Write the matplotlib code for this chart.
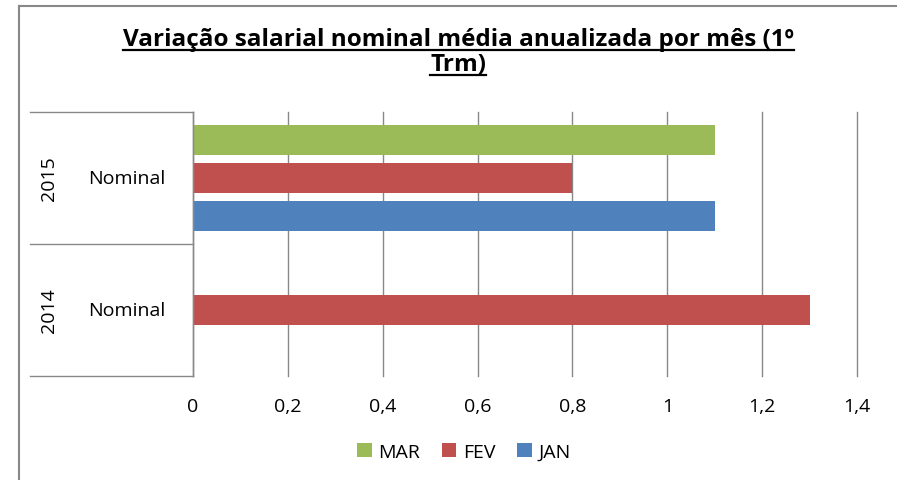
import matplotlib
matplotlib.use('Agg')
import matplotlib.pyplot as plt
import matplotlib.transforms as mtransforms
from matplotlib.lines import Line2D
from matplotlib.patches import Patch
import numpy as np

plt.rcParams['font.family'] = ['Open Sans', 'DejaVu Sans']

# data
years = ['2014', '2015']
group_label = 'Nominal'
months = ['JAN', 'FEV', 'MAR']
jan = [np.nan, 1.1]
fev = [1.3, 0.8]
mar = [np.nan, 1.1]
month_colors = ['#4F81BD', '#C0504D', '#9BBB59']
xticks = [0, 0.2, 0.4, 0.6, 0.8, 1.0, 1.2, 1.4]
xtick_labels = ['0', '0,2', '0,4', '0,6', '0,8', '1', '1,2', '1,4']
title_lines = ['Variação salarial nominal média anualizada por mês (1º', 'Trm)']

W, H = 897, 481
grid_col = '#888888'
txt_col = '#000000'

fig = plt.figure(figsize=(W / 100, H / 100), dpi=100)
ax = fig.add_axes([193 / W, 1 - 377 / H, 664 / W, 264 / H])

ypos = np.arange(len(years))
offsets = [-0.29, 0.0, 0.29]
bar_h = 0.227
for vals, off, col in zip([jan, fev, mar], offsets, month_colors):
    ax.barh(ypos + off, vals, height=bar_h, color=col, zorder=3)

ax.set_xlim(0, 1.4)
ax.set_ylim(-0.5, len(years) - 0.5)
ax.set_xticks(xticks)
ax.set_xticklabels(xtick_labels)
ax.set_yticks([])
ax.tick_params(axis='x', length=0, pad=15, labelsize=14, labelcolor=txt_col)
ax.grid(axis='x', color=grid_col, linewidth=1.0, zorder=0)
for gl in ax.get_xgridlines():
    gl.set_clip_on(False)
for s in ['top', 'right', 'bottom']:
    ax.spines[s].set_visible(False)
ax.spines['left'].set_color(grid_col)
ax.spines['left'].set_linewidth(1.0)
ax.spines['left'].set_zorder(4)

# multi-level category labels on the left
tr = mtransforms.blended_transform_factory(fig.transFigure, ax.transData)
for i, yr in enumerate(years):
    ax.text(48.5 / W, i, yr, transform=tr, rotation=90, ha='center', va='center',
            fontsize=14, color=txt_col)
    ax.text(127 / W, i, group_label, transform=tr, ha='center', va='center',
            fontsize=14, color=txt_col)
for yb in np.arange(-0.5, len(years), 1.0):
    ax.add_line(Line2D([30 / W, 193 / W], [yb, yb], transform=tr, color=grid_col,
                       linewidth=1.0, clip_on=False))

# outer chart border (left and top only visible)
fig.add_artist(Line2D([19 / W, 19 / W], [0, 1 - 6.5 / H], color=grid_col, linewidth=1.5,
                      transform=fig.transFigure))
fig.add_artist(Line2D([19 / W, 1], [1 - 6.5 / H, 1 - 6.5 / H], color=grid_col,
                      linewidth=1.5, transform=fig.transFigure))

# title, bold and underlined
title_texts = []
for line, yb in zip(title_lines, [46, 71]):
    t = fig.text(458 / W, 1 - yb / H, line, ha='center', va='baseline',
                 fontsize=17.5, fontweight='bold', color=txt_col)
    title_texts.append((t, yb))
fig.canvas.draw()
renderer = fig.canvas.get_renderer()
for t, yb in title_texts:
    bb = t.get_window_extent(renderer)
    yu = 1 - (yb + 4.5) / H
    fig.add_artist(Line2D([bb.x0 / W, bb.x1 / W], [yu, yu], color=txt_col,
                          linewidth=1.6, transform=fig.transFigure))

# legend
order = [2, 1, 0]
handles = [Patch(facecolor=month_colors[i], label=months[i]) for i in order]
fig.legend(handles=handles, loc='center', bbox_to_anchor=(464 / W, 1 - 453 / H),
           ncol=3, frameon=False, fontsize=14, handlelength=0.75, handleheight=0.75,
           handletextpad=0.35, columnspacing=1.1, borderaxespad=0)

fig.savefig('out.png', dpi=100)
